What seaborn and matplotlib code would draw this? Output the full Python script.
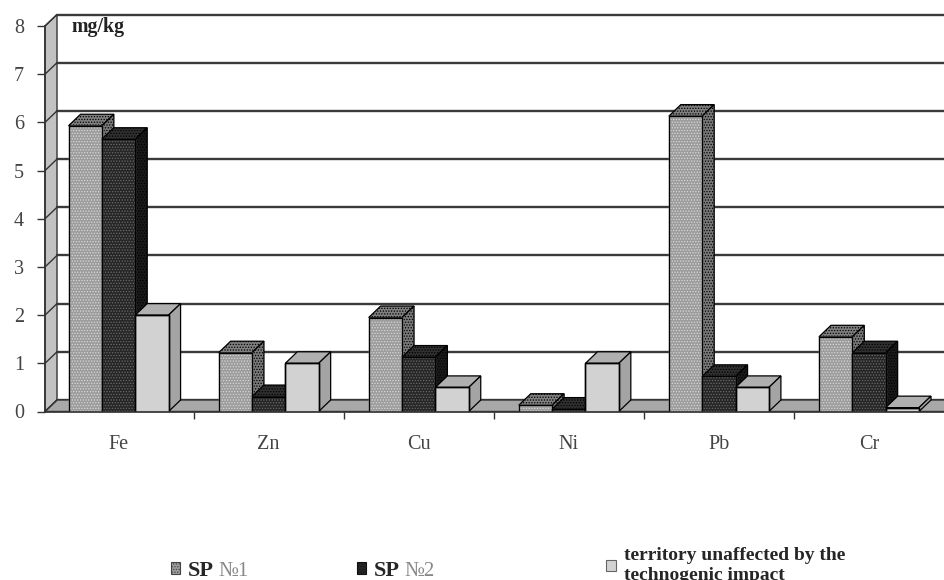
import matplotlib
matplotlib.use("Agg")
import matplotlib.pyplot as plt
import pandas as pd
import seaborn as sns
from matplotlib.patches import Polygon, Patch

metals = ["Fe", "Zn", "Cu", "Ni", "Pb", "Cr"]
sp1 = [5.93, 1.22, 1.95, 0.13, 6.13, 1.55]
sp2 = [5.65, 0.31, 1.13, 0.05, 0.73, 1.22]
unaffected = [2.0, 1.0, 0.5, 1.0, 0.5, 0.08]
series_names = ["SP 1", "SP 2", "territory"]
y_ticks = [0, 1, 2, 3, 4, 5, 6, 7, 8]

sns.set_theme(style="white")
plt.rcParams["font.family"] = ["Liberation Serif", "DejaVu Sans"]
plt.rcParams["hatch.linewidth"] = 0.6

df = pd.DataFrame({
    "metal": metals * 3,
    "value": sp1 + sp2 + unaffected,
    "site": sum([[n] * 6 for n in series_names], []),
})

W, H = 944, 580
fig = plt.figure(figsize=(W / 100, H / 100), dpi=100, facecolor="white")
ax = fig.add_axes([45 / W, 1 - 411.5 / H, 899 / W, 385.5 / H])
fronts = ["#9c9c9c", "#262626", "#d2d2d2"]
tops = ["#808080", "#303030", "#b0b0b0"]
sides = ["#787878", "#1a1a1a", "#a4a4a4"]
hatches = ["......", "......", None]
hatch_cols = ["#d8d8d8", "#6a6a6a", "#d2d2d2"]

sns.barplot(data=df, x="metal", y="value", hue="site", order=metals,
            hue_order=series_names, palette=fronts, width=2 / 3, gap=0,
            legend=False, ax=ax, saturation=1, edgecolor="black", linewidth=1)
x0, x1 = -0.49, 5.5
ax.set_xlim(x0, x1)
ax.set_ylim(0, 8)
ax.set_xlabel("")
ax.set_ylabel("")
dx, dy = 12 / 150, 11.5 / 48.19

# back wall, side wall and floor
ax.add_patch(Polygon([(x0, 0), (x0 + dx, dy), (x0 + dx, 8 + dy), (x0, 8)],
                     closed=True, fc="#c2c2c2", ec="#333333", lw=1, clip_on=False, zorder=0.6))
ax.add_patch(Polygon([(x0, 0), (x0 + dx, dy), (5.6, dy), (5.6, 0)],
                     closed=True, fc="#a8a8a8", ec="#333333", lw=1, clip_on=False, zorder=0.7))
for v in y_ticks:
    ax.plot([x0 + dx, 5.6], [v + dy, v + dy], color="#3a3a3a", lw=1.7, zorder=0.65, clip_on=False)
    ax.plot([x0, x0 + dx], [v, v + dy], color="#333333", lw=1.0, zorder=0.8, clip_on=False)

# extruded bars, left to right so each bar hides its neighbour's side
bars = []
for i, cont in enumerate(ax.containers):
    for p in cont:
        bars.append((p.get_x(), i, p))
bars.sort(key=lambda b: b[0])
for k, (x, i, p) in enumerate(bars):
    w, h = p.get_width(), p.get_height()
    z = 2 + k * 0.01
    ax.add_patch(Polygon([(x, h), (x + w, h), (x + w + dx, h + dy), (x + dx, h + dy)],
                         closed=True, fc=tops[i], ec="black", lw=0.9, zorder=z, hatch=hatches[i]))
    ax.add_patch(Polygon([(x + w, 0), (x + w + dx, dy), (x + w + dx, h + dy), (x + w, h)],
                         closed=True, fc=sides[i], ec="black", lw=0.9, zorder=z, hatch=hatches[i]))
    p.set_zorder(z + 0.001)
    if hatches[i]:
        p.set_hatch(hatches[i])
        p.set_edgecolor(hatch_cols[i])
    ax.plot([x, x, x + w, x + w], [0, h, h, 0], color="black", lw=1, zorder=z + 0.002)

sns.despine(ax=ax, top=True, right=True)
for s in ("left", "bottom"):
    ax.spines[s].set_color("#333333")
    ax.spines[s].set_linewidth(1.2)
ax.set_yticks(y_ticks)
ax.set_xticks(range(6))
ax.set_xticklabels(metals)
ax.set_xticks([v + 0.5 for v in range(5)], minor=True)
ax.tick_params(axis="y", length=6, width=1, color="#333333", pad=9,
               labelsize=14.5, labelcolor="#444444", left=True)
ax.tick_params(axis="x", which="major", length=0, pad=17, labelsize=14.5, labelcolor="#444444")
ax.tick_params(axis="x", which="minor", length=5, width=1, color="#333333", bottom=True)

fig.text(72 / W, 1 - 27 / H, "mg/kg", fontsize=14.4, fontweight="bold", color="#222222",
         va="center", ha="left")

# legend: one entry per column, at their uneven positions
def entry(color, hatch, ec, label, hx, hy, size, weight, hlen, pad):
    fig.legend(handles=[Patch(fc=color, ec=ec, hatch=hatch, lw=0.8)], labels=[label], frameon=False,
               loc="center left", bbox_to_anchor=(hx / W, 1 - hy / H),
               borderpad=0, borderaxespad=0, handlelength=hlen, handleheight=0.5,
               handletextpad=pad, prop={"size": size, "weight": weight,
                                        "family": ["Liberation Serif", "DejaVu Sans"]})

entry(fronts[0], "......", "#444444", "SP", 171, 571, 16, "bold", 0.4, 0.35)
entry(fronts[1], "......", "#111111", "SP", 357, 571, 16, "bold", 0.4, 0.35)
entry(fronts[2], None, "#666666", "territory unaffected by the\ntechnogenic impact", 606, 565.5, 14, "bold", 0.5, 0.4)
fig.text(218 / W, 1 - 572 / H, "№1", fontsize=15, color="#888888", va="center")
fig.text(404 / W, 1 - 572 / H, "№2", fontsize=15, color="#888888", va="center")

fig.savefig("out.png", dpi=100, facecolor="white")
